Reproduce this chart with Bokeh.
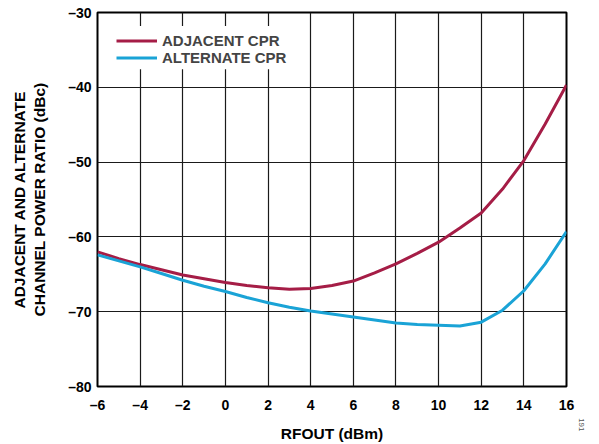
from bokeh.plotting import figure
from bokeh.models import FixedTicker, Legend, LegendItem, Title, BoxAnnotation
from bokeh.embed import file_html
from bokeh.resources import INLINE

# ---- data ----
rfout_dbm = [-6, -5, -4, -3, -2, -1, 0, 1, 2, 3, 4, 5, 6, 7, 8, 9, 10, 11, 12, 13, 14, 15, 16]
adjacent_cpr = [-62.0, -62.9, -63.7, -64.4, -65.1, -65.6, -66.1, -66.5, -66.8, -67.0, -66.9, -66.5,
                -65.9, -64.8, -63.6, -62.2, -60.7, -58.8, -56.8, -53.6, -49.8, -44.9, -39.7]
alternate_cpr = [-62.4, -63.2, -64.0, -64.9, -65.8, -66.6, -67.3, -68.1, -68.8, -69.4, -69.9, -70.3,
                 -70.7, -71.1, -71.5, -71.7, -71.8, -71.9, -71.4, -69.8, -67.2, -63.6, -59.3]

x_ticks = [-6, -4, -2, 0, 2, 4, 6, 8, 10, 12, 14, 16]
x_tick_labels = ["–6", "–4", "–2", "0", "2", "4", "6", "8", "10", "12", "14", "16"]
y_ticks = [-80, -70, -60, -50, -40, -30]
y_tick_labels = ["–80", "–70", "–60", "–50", "–40", "–30"]

series_names = ["ADJACENT CPR", "ALTERNATE CPR"]
series_colors = ["#A51D46", "#1AA3D6"]

FONT = "Liberation Sans"

p = figure(width=599, height=444, output_backend="svg", toolbar_location=None,
           x_range=(-6, 16), y_range=(-80, -30),
           min_border_left=97, min_border_right=33, min_border_top=12, min_border_bottom=56)

r1 = p.line(rfout_dbm, adjacent_cpr, line_color=series_colors[0], line_width=3)
r2 = p.line(rfout_dbm, alternate_cpr, line_color=series_colors[1], line_width=3)

p.xaxis.ticker = FixedTicker(ticks=x_ticks)
p.yaxis.ticker = FixedTicker(ticks=y_ticks)
p.xaxis.major_label_overrides = {t: l for t, l in zip(x_ticks, x_tick_labels)}
p.yaxis.major_label_overrides = {t: l for t, l in zip(y_ticks, y_tick_labels)}

for ax in (p.xaxis, p.yaxis):
    ax.major_tick_out = 0
    ax.major_tick_in = 0
    ax.minor_tick_out = 0
    ax.minor_tick_in = 0
    ax.axis_line_color = None
    ax.major_label_text_font = FONT
    ax.major_label_text_font_style = "bold"
    ax.major_label_text_font_size = "14px"
    ax.major_label_text_color = "black"
    ax.axis_label_text_font = FONT
    ax.axis_label_text_font_style = "bold"
    ax.axis_label_text_font_size = "15.5px"
    ax.axis_label_text_color = "black"

p.xaxis.axis_label = "RFOUT (dBm)"
p.xaxis.major_label_standoff = 10
p.xaxis.axis_label_standoff = 9
p.yaxis.axis_label = "ADJACENT AND ALTERNATE\nCHANNEL POWER RATIO (dBc)"
p.yaxis.major_label_standoff = 6
p.yaxis.axis_label_standoff = 17

p.xgrid.grid_line_color = "#1a1a1a"
p.ygrid.grid_line_color = "#1a1a1a"
p.xgrid.grid_line_width = 1.2
p.ygrid.grid_line_width = 1.2

p.outline_line_color = "black"
p.outline_line_width = 2
p.background_fill_color = "white"
p.border_fill_color = "white"

# white panel behind the legend (covers the grid like in the reference)
legend_bg = BoxAnnotation(left=-5.55, right=3.75, top=-31.8, bottom=-37.6,
                          fill_color="white", fill_alpha=1.0, line_color=None)
p.add_layout(legend_bg)

legend_locs = [(19, 337), (19, 320)]
for name, rend, loc in zip(series_names, [r1, r2], legend_locs):
    lg = Legend(items=[LegendItem(label=name, renderers=[rend])], location=loc)
    lg.label_text_font = FONT
    lg.label_text_font_style = "bold"
    lg.label_text_font_size = "15px"
    lg.label_height = 15
    lg.glyph_height = 15
    lg.glyph_width = 41
    lg.label_standoff = 5
    lg.spacing = 0
    lg.padding = 0
    lg.margin = 0
    lg.border_line_color = None
    lg.background_fill_alpha = 0.0
    p.add_layout(lg, "center")

note = Title(text="191", align="right", offset=-45, standoff=24,
             text_font=FONT, text_font_size="8px", text_font_style="normal",
             text_color="#555555")
p.add_layout(note, "right")

open("out.html", "w").write(file_html(p, INLINE))
